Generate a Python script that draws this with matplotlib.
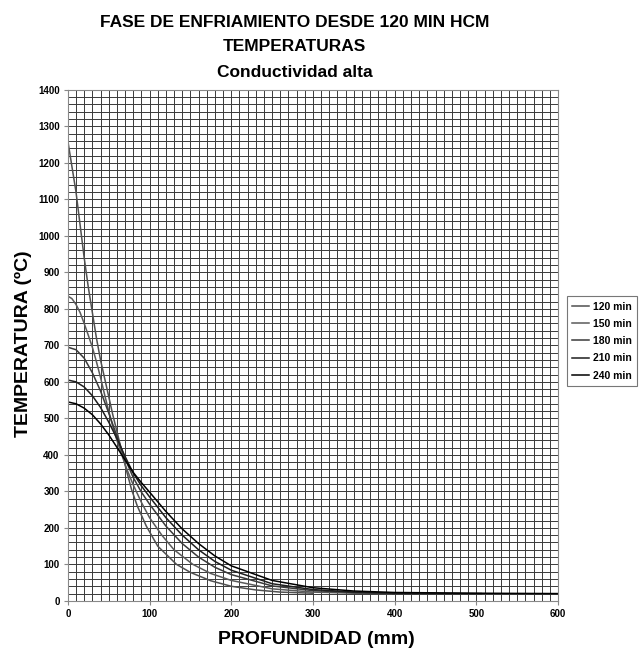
import numpy as np
import matplotlib
matplotlib.use("Agg")
import matplotlib.pyplot as plt

plt.rcParams['font.family'] = ['Liberation Sans', 'DejaVu Sans']

# profundidad (mm) y temperaturas (ºC)
x120 = [0, 5, 10, 15, 20, 25, 30, 35, 40, 45, 50, 55, 60, 66, 72, 78, 85, 96, 110, 133, 150, 175, 200, 230, 260, 300]
t120 = [1260, 1190, 1120, 1030, 940, 860, 790, 720, 660, 610, 560, 510, 465, 410, 355, 305, 260, 205, 150, 100, 78, 55, 40, 30, 24, 21]
x150 = [0, 5, 10, 15, 20, 25, 30, 35, 40, 45, 50, 55, 60, 66, 72, 80, 90, 100, 115, 130, 153, 175, 200, 250, 300, 350, 396]
t150 = [835, 828, 812, 790, 760, 728, 695, 655, 612, 565, 520, 478, 440, 400, 362, 318, 270, 228, 180, 140, 100, 75, 56, 33, 24, 21, 20]
x180 = [0, 10, 20, 30, 40, 50, 60, 70, 80, 90, 100, 120, 140, 160, 180, 200, 250, 300, 350, 424]
t180 = [695, 688, 665, 625, 575, 515, 452, 390, 338, 298, 265, 205, 157, 120, 92, 72, 41, 28, 23, 20]
x210 = [0, 10, 20, 30, 40, 50, 60, 70, 80, 90, 100, 120, 140, 160, 180, 200, 250, 300, 350, 400, 506]
t210 = [605, 600, 586, 562, 530, 490, 445, 396, 350, 315, 285, 228, 180, 140, 108, 84, 47, 31, 24, 21, 20]
x240 = [0, 10, 20, 30, 40, 50, 60, 70, 80, 90, 100, 120, 140, 160, 180, 200, 250, 300, 350, 400, 500, 600]
t240 = [545, 540, 528, 510, 485, 455, 421, 386, 352, 324, 298, 245, 197, 157, 123, 96, 56, 36, 27, 23, 21, 20]
labels = ['120 min', '150 min', '180 min', '210 min', '240 min']
colors = ['#505050', '#5a5a5a', '#3a3a3a', '#1e1e1e', '#000000']

fig = plt.figure(figsize=(6.4, 6.51), dpi=100)
ax = fig.add_axes([0.106, 0.077, 0.766, 0.785])

for x, t, lab, c in zip([x120, x150, x180, x210, x240], [t120, t150, t180, t210, t240], labels, colors):
    ax.plot(x, t, color=c, lw=1.1, label=lab)

ax.set_xlim(0, 600)
ax.set_ylim(0, 1400)
ax.set_xticks(np.arange(0, 601, 100))
ax.set_yticks(np.arange(0, 1401, 100))
ax.set_xticks(np.arange(0, 601, 10), minor=True)
ax.set_yticks(np.arange(0, 1401, 20), minor=True)
ax.grid(which='both', color='#3a3a3a', lw=0.7)
ax.set_axisbelow(True)
ax.tick_params(which='minor', length=0)
ax.tick_params(which='major', length=3, direction='out', labelsize=7, pad=3, color='#888888')
for lab in ax.get_xticklabels() + ax.get_yticklabels():
    lab.set_fontweight('bold')
for s in ax.spines.values():
    s.set_color('#888888')

fig.text(0.46, 0.966, 'FASE DE ENFRIAMIENTO DESDE 120 MIN HCM', ha='center', va='center',
         fontsize=12.5, fontweight='bold')
fig.text(0.46, 0.928, 'TEMPERATURAS', ha='center', va='center', fontsize=12.5, fontweight='bold')
fig.text(0.46, 0.889, 'Conductividad alta', ha='center', va='center', fontsize=12.5, fontweight='bold')
fig.text(0.494, 0.017, 'PROFUNDIDAD (mm)', ha='center', va='center', fontsize=14, fontweight='bold')
fig.text(0.036, 0.472, 'TEMPERATURA (ºC)', ha='center', va='center', rotation=90,
         fontsize=14, fontweight='bold')

leg = fig.legend(loc='center left', bbox_to_anchor=(0.886, 0.476),
                 prop={'weight': 'bold', 'size': 7.5}, frameon=True, fancybox=False,
                 handlelength=1.6, handletextpad=0.4, labelspacing=0.7, borderpad=0.5,
                 borderaxespad=0)
leg.get_frame().set_edgecolor('#555555')
leg.get_frame().set_linewidth(0.8)

fig.savefig('out.png', dpi=100)
